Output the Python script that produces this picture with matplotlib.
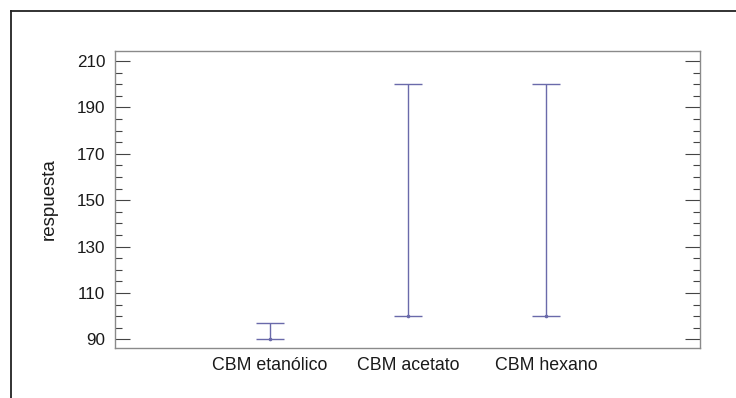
import matplotlib
matplotlib.use("Agg")
import matplotlib.pyplot as plt
from matplotlib.ticker import MultipleLocator
import numpy as np

categories = ["CBM etanólico", "CBM acetato", "CBM hexano"]
lower = [90, 100, 100]
upper = [97, 200, 200]
y_ticks = [90, 110, 130, 150, 170, 190, 210]
y_label = "respuesta"

plt.rcParams['font.family'] = ['Liberation Sans', 'DejaVu Sans']

fig = plt.figure(figsize=(7.36, 3.98), dpi=100)
W, H = 736, 398

# outer frame (cropped: only top and left visible)
fig.add_artist(plt.Line2D([11 / W, 1.0], [1 - 11 / H, 1 - 11 / H], color='#222222', lw=1.3,
                          transform=fig.transFigure))
fig.add_artist(plt.Line2D([11 / W, 11 / W], [0.0, 1 - 11 / H], color='#222222', lw=1.3,
                          transform=fig.transFigure))

left, right, top, bottom = 115, 700, 51, 347.7
ax = fig.add_axes([left / W, 1 - bottom / H, (right - left) / W, (bottom - top) / H])

x = np.arange(len(categories))
lo = np.array(lower, dtype=float)
hi = np.array(upper, dtype=float)
mid = (lo + hi) / 2
half = (hi - lo) / 2
ax.errorbar(x, mid, yerr=half, fmt='none', ecolor='#6a6aaa', elinewidth=1.0,
            capsize=9.9, capthick=1.0)
ax.plot(x, lo, linestyle='none', marker='o', markersize=1.6, color='#6a6aaa')

ax.set_xlim(-1.123, 3.116)
ax.set_ylim(86.4, 214.3)
ax.set_xticks(x)
ax.set_xticklabels(categories, fontsize=12.8, color='#1a1a1a')
ax.tick_params(axis='x', length=0, pad=7)
ax.set_yticks(y_ticks)
ax.yaxis.set_minor_locator(MultipleLocator(5))
ax.tick_params(axis='y', which='major', direction='in', length=11, width=0.8,
               left=True, right=True, labelsize=12.3, labelcolor='#1a1a1a',
               color='#444444', pad=7)
ax.tick_params(axis='y', which='minor', direction='in', length=5, width=0.8,
               left=True, right=True, color='#444444')
for s in ax.spines.values():
    s.set_color('#8a8a8a')
    s.set_linewidth(1.0)
ax.set_ylabel(y_label, fontsize=13.5, color='#1a1a1a', labelpad=14)

fig.savefig("out.png", dpi=100)
